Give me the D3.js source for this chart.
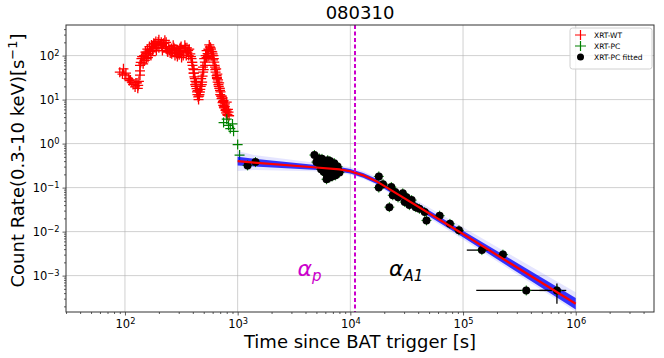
<!DOCTYPE html>
<html>
<head>
<meta charset="utf-8">
<script src="https://cdn.jsdelivr.net/npm/d3@7"></script>
<style>
  body { margin: 0; background: #fff; }
  svg { font-family: "DejaVu Sans", sans-serif; }
</style>
</head>
<body>
<div id="chart"></div>
<script>
// ---- data ----
var title = "080310";
var xDecades = [100, 1000, 10000, 100000, 1000000];
var xDecadeExp = ["2", "3", "4", "5", "6"];
var yDecades = [0.001, 0.01, 0.1, 1, 10, 100];
var yDecadeExp = ["\u22123", "\u22122", "\u22121", "0", "1", "2"];

// XRT-WT (red crosses)
var wtT = [90, 97, 100, 107, 115, 123, 131, 136, 136, 140, 150, 156, 160, 166, 170, 178, 184, 190, 197, 200,
  212, 226, 234, 249, 260, 268, 287, 300, 307, 329, 340, 350, 364, 380, 390, 403, 417, 420, 432, 440,
  447, 455, 462, 470, 484, 494, 512, 541, 567, 595, 620, 630, 637, 650, 664, 680, 697, 700, 720, 740,
  745, 760, 780, 790, 800, 815, 830, 112, 128, 145, 175, 215, 240, 275, 315, 355, 395, 410, 530, 555,
  580, 610, 655, 690, 725, 770,
  95, 102, 110, 118, 125, 130, 133,
  136, 138, 142, 145, 148, 152, 155, 158, 162, 165, 168, 172, 176, 180, 185,
  188, 193, 200, 205, 210, 215, 220, 228, 232, 238, 245, 252, 258, 263, 272, 278, 283, 292, 297, 303,
  310, 318, 322, 333, 345, 358, 368, 372, 385, 395,
  398, 405, 410, 413, 422, 426, 430, 436, 442, 450, 458,
  466, 475, 480, 488, 492, 500, 505, 515, 520, 530, 545, 550, 560, 575,
  585, 590, 600, 605, 615, 625, 633, 645, 655, 660, 670, 675, 685, 692, 705, 712, 730, 735, 750, 755,
  770, 785, 800, 810, 820, 840];
var wtR = [42, 50, 36, 30, 25, 19.4, 21, 36, 60, 85, 78, 111, 90, 132, 100, 144, 187, 130, 204, 150,
  171, 223, 144, 132, 110, 171, 111, 120, 144, 101, 171, 100, 132, 110, 85, 50, 30, 22, 17.7, 13,
  11.5, 12, 14.9, 20, 25, 42, 71, 111, 157, 121, 71, 55, 42, 35, 25, 20, 16.2, 13, 10.5, 9,
  7.4, 6.5, 5.7, 5, 8.8, 4.4, 5.2, 28, 24, 95, 160, 130, 120, 140, 160, 150, 70, 40, 90, 135,
  140, 100, 30, 18, 12, 7,
  38, 40, 27, 22, 24, 18, 26,
  45, 70, 95, 65, 100, 120, 85, 140, 110, 160, 125, 175, 130, 190, 150,
  210, 170, 230, 180, 200, 150, 190, 160, 200, 125, 160, 115, 145, 120, 150, 100, 140, 95, 130, 105,
  150, 90, 125, 115, 150, 120, 100, 140, 95, 70,
  60, 40, 48, 33, 26, 20, 24, 15, 16, 10, 13,
  17, 30, 22, 34, 55, 48, 85, 60, 100, 130, 95, 140, 175, 150,
  125, 100, 110, 80, 85, 60, 48, 50, 32, 38, 28, 22, 24, 18, 15, 12, 11, 8.5, 9.5, 6.8,
  8, 6, 5.5, 4.6, 6, 4.3];

// XRT-PC (green crosses)
var pcT = [750, 800, 830, 860, 900, 920, 1000, 1040];
var pcR = [3.0, 3.6, 2.6, 2.2, 2.8, 1.9, 0.95, 0.55];

// XRT-PC fitted (black points)
var fitT = [1225, 1440, 4800, 5200, 5400, 5600, 5700, 5900, 6000, 6100, 6300, 6400, 6500, 6700, 6800,
  6900, 7100, 7300, 7500, 7800, 6200, 5800, 6150, 6550,
  5000, 5300, 5500, 6000, 6600, 6900, 7200, 7400, 7000, 6300, 5700, 6800, 7700, 8000,
  17900, 17900, 19500, 23100, 22200, 23800,
  25000, 26500, 29200, 30400, 31500, 33400, 35000, 38000, 41000, 45700, 47400, 62000, 76500, 92000,
  147000, 226000, 364000, 681000];
var fitR = [0.32, 0.38, 0.55, 0.40, 0.33, 0.45, 0.28, 0.36, 0.25, 0.31, 0.42, 0.22, 0.29, 0.35, 0.20,
  0.26, 0.31, 0.23, 0.28, 0.25, 0.19, 0.23, 0.155, 0.17,
  0.38, 0.46, 0.26, 0.38, 0.40, 0.18, 0.36, 0.19, 0.24, 0.27, 0.34, 0.30, 0.30, 0.22,
  0.18, 0.10, 0.12, 0.103, 0.036, 0.067,
  0.08, 0.06, 0.074, 0.047, 0.060, 0.040, 0.052, 0.036, 0.033, 0.028, 0.018, 0.023, 0.015, 0.0107,
  0.0038, 0.0030, 0.00046, 0.00046];
// error bars of the late points
var errT = [147000, 364000, 681000];
var errR = [0.0038, 0.00046, 0.00046];
var errTlo = [108000, 131000, 477000];
var errThi = [175000, 566000, 824000];
var errRlo = [0.0034, 0.00041, 0.00023];
var errRhi = [0.0043, 0.00052, 0.00066];

// broken power-law fit and its spread
var modelT = [1000, 1400, 4700, 8000, 10000, 13000, 17000, 100000, 1000000];
var modelR = [0.40, 0.37, 0.29, 0.26, 0.235, 0.19, 0.14, 0.0088, 0.00023];
var outerHi = [0.68, 0.55, 0.37, 0.32, 0.29, 0.235, 0.175, 0.0125, 0.00042];
var outerLo = [0.24, 0.25, 0.235, 0.215, 0.195, 0.16, 0.115, 0.0066, 0.00015];
var innerHi = [0.50, 0.45, 0.33, 0.295, 0.265, 0.215, 0.16, 0.0105, 0.00031];
var innerLo = [0.32, 0.30, 0.255, 0.23, 0.21, 0.168, 0.123, 0.0074, 0.00017];

var breakT = 11000;
var legendNames = ["XRT-WT", "XRT-PC", "XRT-PC fitted"];
var legendColors = ["#ff0000", "#008000", "#000000"];

// ---- layout ----
const W = 664, H = 358;
const margin = {top: 25, right: 10, bottom: 46, left: 66};
const width = W - margin.left - margin.right,
      height = H - margin.top - margin.bottom;

var svg = d3.select("#chart").append("svg")
  .attr("width", W).attr("height", H);
var g = svg.append("g")
  .attr("transform", `translate(${margin.left},${margin.top})`);

var x = d3.scaleLog().domain([29.98, 4.95e6]).range([0, width]);
var y = d3.scaleLog().domain([1.49e-4, 496]).range([height, 0]);

// grid
g.append("g").selectAll("line").data(xDecades).join("line")
  .attr("x1", d => x(d)).attr("x2", d => x(d))
  .attr("y1", 0).attr("y2", height)
  .attr("stroke", "#b0b0b0").attr("stroke-opacity", 0.6).attr("stroke-width", 1);
g.append("g").selectAll("line").data(yDecades).join("line")
  .attr("y1", d => y(d)).attr("y2", d => y(d))
  .attr("x1", 0).attr("x2", width)
  .attr("stroke", "#b0b0b0").attr("stroke-opacity", 0.6).attr("stroke-width", 1);

// minor tick positions
var xMinor = [], yMinor = [];
[10, 100, 1000, 10000, 100000, 1000000].forEach(d => {
  for (var k = 2; k < 10; k++) if (d * k > 29.98 && d * k < 4.95e6) xMinor.push(d * k);
});
[0.0001, 0.001, 0.01, 0.1, 1, 10, 100].forEach(d => {
  for (var k = 2; k < 10; k++) if (d * k > 1.49e-4 && d * k < 496) yMinor.push(d * k);
});

var clip = g.append("clipPath").attr("id", "clip")
  .append("rect").attr("width", width).attr("height", height);
var plot = g.append("g").attr("clip-path", "url(#clip)");

function cross(sel, tArr, rArr, color, s, sw) {
  var pts = d3.range(tArr.length);
  sel.selectAll("path").data(pts).join("path")
    .attr("d", i => {
      var cx = x(tArr[i]), cy = y(rArr[i]);
      return `M${cx - s},${cy}H${cx + s}M${cx},${cy - s}V${cy + s}`;
    })
    .attr("stroke", color).attr("stroke-width", sw).attr("fill", "none");
}
cross(plot.append("g"), wtT, wtR, "#ff0000", 5, 1.3);
cross(plot.append("g"), pcT, pcR, "#008000", 5, 1.2);

// fit spread
var areaOuter = d3.area().x((d, i) => x(modelT[i])).y0((d, i) => y(outerLo[i])).y1((d, i) => y(outerHi[i]));
var areaInner = d3.area().x((d, i) => x(modelT[i])).y0((d, i) => y(innerLo[i])).y1((d, i) => y(innerHi[i]));
plot.append("path").datum(modelT).attr("d", areaOuter)
  .attr("fill", "#0000ff").attr("fill-opacity", 0.1);
plot.append("path").datum(modelT).attr("d", areaInner)
  .attr("fill", "#0000ff").attr("fill-opacity", 0.78);

// error bars
var eb = plot.append("g");
d3.range(errT.length).forEach(i => {
  eb.append("line").attr("x1", x(errTlo[i])).attr("x2", x(errThi[i]))
    .attr("y1", y(errR[i])).attr("y2", y(errR[i]))
    .attr("stroke", "#000").attr("stroke-width", 1.3);
  eb.append("line").attr("x1", x(errT[i])).attr("x2", x(errT[i]))
    .attr("y1", y(errRlo[i])).attr("y2", y(errRhi[i]))
    .attr("stroke", "#000").attr("stroke-width", 1.3);
});

// green crosses behind black points then black dots
cross(plot.append("g"), fitT, fitR, "#008000", 5, 1);
plot.append("g").selectAll("circle").data(d3.range(fitT.length)).join("circle")
  .attr("cx", i => x(fitT[i])).attr("cy", i => y(fitR[i]))
  .attr("r", 4).attr("fill", "#000");

// model line
plot.append("path").datum(modelT)
  .attr("d", d3.line().x((d, i) => x(modelT[i])).y((d, i) => y(modelR[i])))
  .attr("fill", "none").attr("stroke", "#ff0000").attr("stroke-width", 2.2);

// break line
g.append("line").attr("x1", x(breakT)).attr("x2", x(breakT))
  .attr("y1", 0).attr("y2", height)
  .attr("stroke", "#cc00cc").attr("stroke-width", 2).attr("stroke-dasharray", "4,2.5");

// annotations
function greek(xx, yy, sub, color) {
  var t = g.append("text").attr("x", x(xx)).attr("y", y(yy))
    .attr("fill", color).attr("font-size", 22).attr("font-style", "italic");
  t.append("tspan").text("\u03b1");
  t.append("tspan").attr("dy", 5).attr("font-size", 15).text(sub);
}
greek(3400, 0.001, "p", "#cc00cc");
greek(22000, 0.001, "A1", "#000");

// axes
function supLabel(sel, exps) {
  sel.selectAll(".tick text").each(function (d, i) {
    var t = d3.select(this).text(null);
    t.append("tspan").text("10");
    t.append("tspan").attr("dy", "-0.45em").attr("font-size", "0.72em").text(exps[i]);
  });
}
var xAx = g.append("g").attr("transform", `translate(0,${height})`)
  .call(d3.axisBottom(x).tickValues(xDecades).tickSize(3.5).tickPadding(4).tickFormat(() => "x"));
supLabel(xAx, xDecadeExp);
g.append("g").attr("transform", `translate(0,${height})`)
  .call(d3.axisBottom(x).tickValues(xMinor).tickSize(2).tickFormat(""));
var yAx = g.append("g")
  .call(d3.axisLeft(y).tickValues(yDecades).tickSize(3.5).tickPadding(3).tickFormat(() => "x"));
supLabel(yAx, yDecadeExp);
g.append("g").call(d3.axisLeft(y).tickValues(yMinor).tickSize(2).tickFormat(""));
g.selectAll(".domain").remove();
g.selectAll(".tick line").attr("stroke", "#333").attr("stroke-width", 0.8);
g.selectAll(".tick text").attr("font-size", 11.5).attr("fill", "#000")
  .attr("font-family", "DejaVu Sans");

// frame
g.append("rect").attr("width", width).attr("height", height)
  .attr("fill", "none").attr("stroke", "#333").attr("stroke-width", 1);

// title and labels
svg.append("text").attr("x", margin.left + width / 2).attr("y", 19)
  .attr("text-anchor", "middle").attr("font-size", 18).text(title);
svg.append("text").attr("x", margin.left + width / 2).attr("y", 348)
  .attr("text-anchor", "middle").attr("font-size", 18).text("Time since BAT trigger [s]");
var yl = svg.append("text")
  .attr("transform", `translate(24,${margin.top + height / 2 - 8}) rotate(-90)`)
  .attr("text-anchor", "middle").attr("font-size", 18);
yl.append("tspan").text("Count Rate(0.3-10 keV)[s");
yl.append("tspan").attr("dy", -7).attr("font-size", 13).text("\u22121");
yl.append("tspan").attr("dy", 7).text("]");

// legend
var lg = svg.append("g").attr("transform", "translate(570,28)");
lg.append("rect").attr("width", 82).attr("height", 41).attr("rx", 2.5)
  .attr("fill", "#fff").attr("fill-opacity", 0.8).attr("stroke", "#d0d0d0");
legendNames.forEach((name, i) => {
  var cy = 7 + i * 11;
  if (i < 2) {
    lg.append("path").attr("d", `M5,${cy}H16M10.5,${cy - 5}V${cy + 5}`)
      .attr("stroke", legendColors[i]).attr("stroke-width", 1.2);
  } else {
    lg.append("circle").attr("cx", 10.5).attr("cy", cy).attr("r", 3.5).attr("fill", legendColors[i]);
  }
  lg.append("text").attr("x", 24).attr("y", cy + 2.6).attr("font-size", 7.5).text(name);
});
</script>
</body>
</html>
